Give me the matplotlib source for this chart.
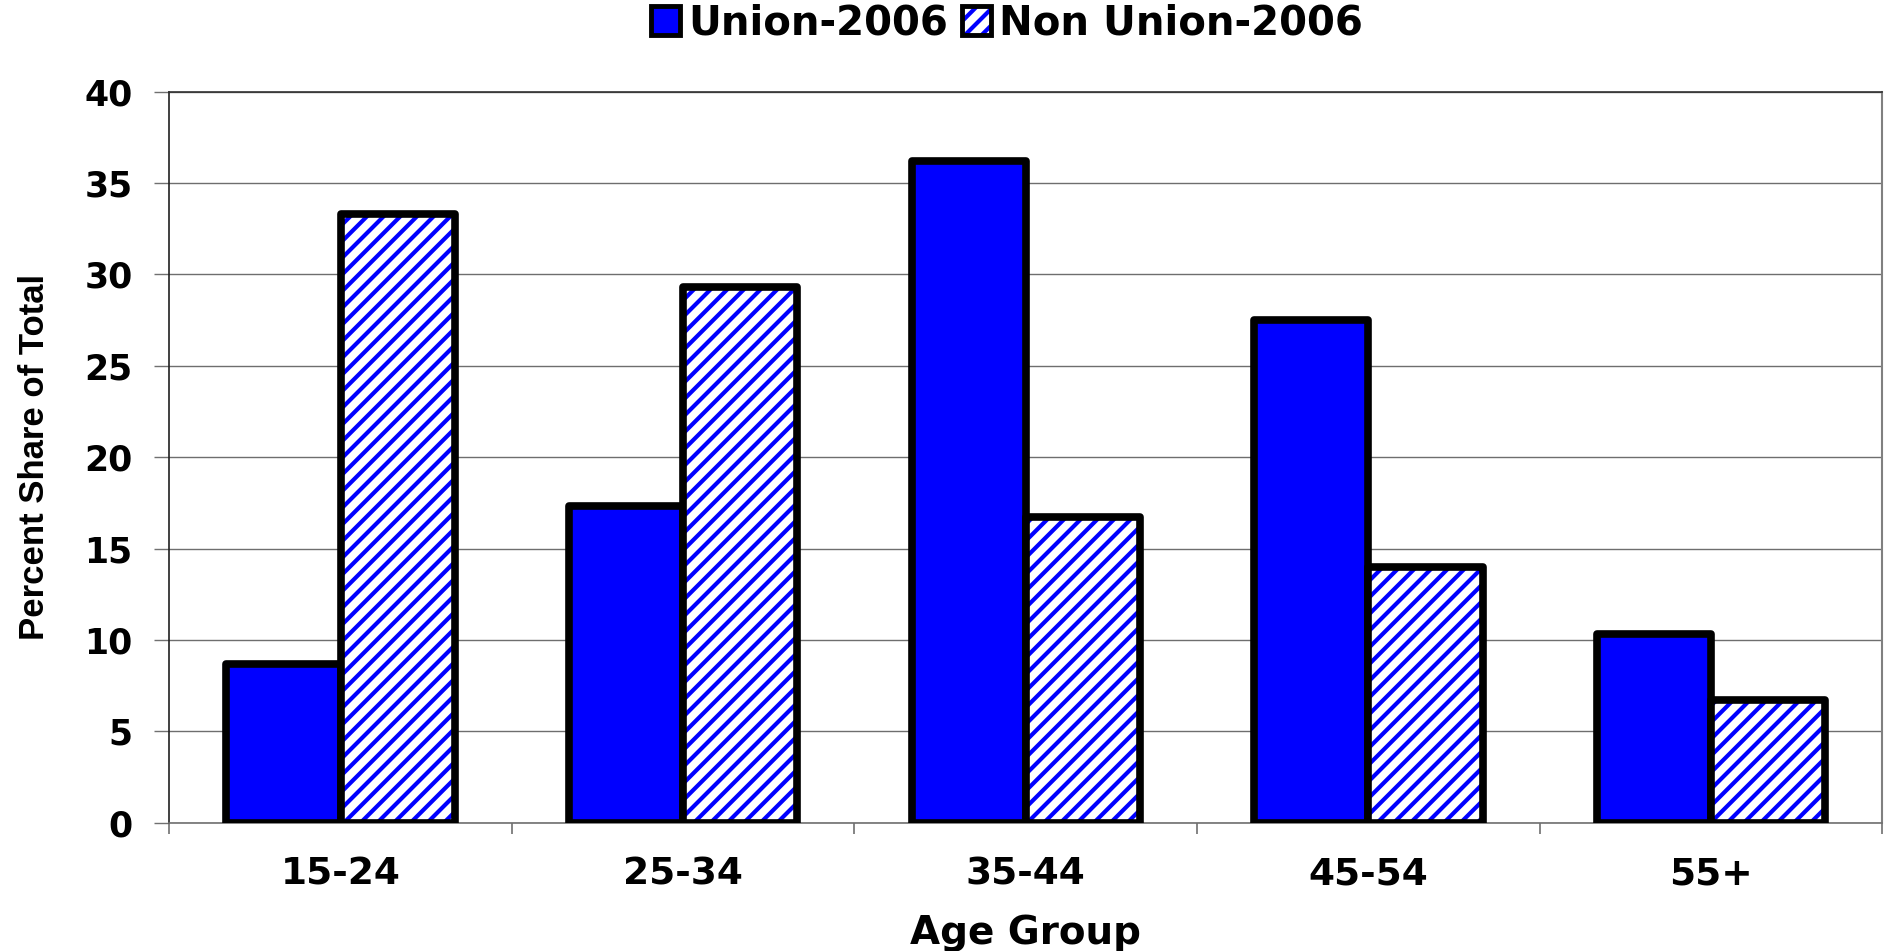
import matplotlib
matplotlib.use("Agg")
import matplotlib.pyplot as plt
from matplotlib.patches import Patch
from matplotlib.legend_handler import HandlerTuple
import numpy as np

# Data
age_groups = ["15-24", "25-34", "35-44", "45-54", "55+"]
union_2006 = [8.7, 17.3, 36.2, 27.5, 10.35]
non_union_2006 = [33.3, 29.3, 16.7, 14.0, 6.7]
y_ticks = [0, 5, 10, 15, 20, 25, 30, 35, 40]

plt.rcParams["font.family"] = ["DejaVu Sans"]
plt.rcParams["font.weight"] = "bold"
plt.rcParams["hatch.linewidth"] = 3.0

fig = plt.figure(figsize=(18.89, 9.51), dpi=100)
ax = fig.add_axes([0.0896, 0.1349, 0.9068, 0.7688])

x = np.arange(len(age_groups))
w = 1 / 3

# Union bars: solid blue with thick black edge
ax.bar(x - w / 2, union_2006, w, color="#0000ff", edgecolor="black",
       linewidth=5.5, joinstyle="round", zorder=3)

# Non union bars: blue hatching, then a black outline on top
ax.bar(x + w / 2, non_union_2006, w, color="white", edgecolor="#0000ff",
       hatch="//", linewidth=0, zorder=3)
ax.bar(x + w / 2, non_union_2006, w, fill=False, edgecolor="black",
       linewidth=5.5, joinstyle="round", zorder=4)

ax.set_xlim(-0.5, len(age_groups) - 0.5)
ax.set_ylim(0, 40)
ax.set_yticks(y_ticks)
ax.set_yticklabels([str(t) for t in y_ticks], fontsize=25, fontweight="heavy")
ax.tick_params(axis="y", length=10.5, width=1, color="#707070", pad=16)

ax.set_xticks(x)
ax.set_xticklabels(age_groups, fontsize=27, fontweight="heavy")
ax.tick_params(axis="x", which="major", length=0, pad=24)
ax.set_xticks(np.arange(len(age_groups) + 1) - 0.5, minor=True)
ax.tick_params(axis="x", which="minor", length=8, width=1.2, color="#707070")

ax.yaxis.grid(True, color="#6e6e6e", linewidth=1)
ax.set_axisbelow(True)

ax.spines["left"].set_color("#202020")
ax.spines["left"].set_linewidth(1.2)
ax.spines["top"].set_color("#303030")
ax.spines["top"].set_linewidth(1.2)
ax.spines["right"].set_color("#808080")
ax.spines["right"].set_linewidth(1.5)
ax.spines["bottom"].set_color("#707070")
ax.spines["bottom"].set_linewidth(1.2)

ax.set_xlabel("Age Group", fontsize=28, fontweight="heavy", labelpad=16)
ax.set_ylabel("Percent Share of Total", fontsize=25, fontweight="bold",
              family="Liberation Sans", labelpad=24)

# Legend
union_patch = Patch(facecolor="#0000ff", edgecolor="black", linewidth=3.5)
hatch_patch = Patch(facecolor="white", edgecolor="#0000ff", hatch="//", linewidth=0)
outline_patch = Patch(fill=False, edgecolor="black", linewidth=3.5)
fig.legend([union_patch, (hatch_patch, outline_patch)],
           ["Union-2006", "Non Union-2006"],
           handler_map={tuple: HandlerTuple(ndivide=1, pad=0)},
           loc="center", bbox_to_anchor=(0.533, 0.975), ncol=2, frameon=False,
           handlelength=0.72, handleheight=0.72,
           handletextpad=0.2, columnspacing=0.35,
           prop={"weight": "heavy", "size": 29})

fig.savefig("out.png", dpi=100)
